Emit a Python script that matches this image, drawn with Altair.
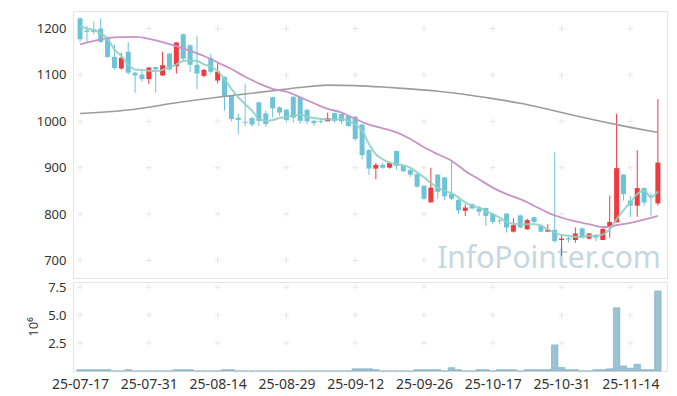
import altair as alt
import pandas as pd

# trading days (index 0..84)
dates = (
    ["25-07-%02d" % d for d in [17, 18, 21, 22, 23, 24, 25, 28, 29, 30, 31]]
    + ["25-08-%02d" % d for d in [1, 4, 5, 6, 7, 8, 11, 12, 13, 14, 18, 19, 20, 21, 22, 25, 26, 27, 28, 29]]
    + ["25-09-%02d" % d for d in [1, 2, 3, 4, 5, 8, 9, 10, 11, 12, 15, 16, 17, 18, 19, 22, 23, 24, 25, 26, 29, 30]]
    + ["25-10-%02d" % d for d in [1, 2, 10, 13, 14, 15, 16, 17, 20, 21, 22, 23, 24, 27, 28, 29, 30, 31]]
    + ["25-11-%02d" % d for d in [3, 4, 5, 6, 7, 10, 11, 12, 13, 14, 17, 18, 19, 20]]
)

opens = [1222, 1196, 1198, 1200, 1181, 1139, 1114, 1150, 1105, 1101,
         1091, 1117, 1099, 1146, 1119, 1188, 1164, 1122, 1098, 1137,
         1088, 1096, 1055, 1008, 999, 1007, 1041, 1017, 1052, 1030,
         1025, 1053, 1052, 1025, 1001, 1001, 1000, 1018, 1016, 1012,
         1010, 993, 938, 898, 906, 900, 936, 904, 895, 886,
         861, 825, 885, 879, 843, 830, 807, 821, 812, 813,
         800, 786, 801, 762, 797, 767, 793, 775, 762, 766,
         744, 748, 744, 769, 747, 755, 744, 771, 782, 885,
         829, 818, 856, 838, 823]
highs = [1224, 1206, 1216, 1222, 1183, 1165, 1148, 1171, 1106, 1112,
         1117, 1118, 1150, 1148, 1171, 1189, 1166, 1185, 1113, 1145,
         1126, 1097, 1056, 1017, 1080, 1010, 1042, 1023, 1053, 1032,
         1027, 1054, 1053, 1026, 1004, 1006, 1019, 1019, 1017, 1013,
         1011, 994, 940, 910, 911, 913, 937, 906, 898, 888,
         862, 900, 886, 880, 914, 833, 821, 823, 817, 814,
         802, 789, 802, 791, 799, 790, 794, 778, 778, 933,
         756, 751, 771, 771, 759, 756, 769, 840, 1016, 886,
         839, 938, 857, 846, 1048]
lows = [1171, 1170, 1188, 1170, 1137, 1111, 1111, 1101, 1062, 1086,
        1080, 1062, 1098, 1110, 1103, 1130, 1106, 1070, 1095, 1103,
        1082, 1023, 1000, 972, 990, 988, 990, 988, 1008, 1012,
        1000, 997, 995, 994, 990, 995, 1000, 997, 994, 988,
        958, 918, 884, 875, 898, 898, 896, 891, 880, 857,
        830, 825, 833, 830, 830, 800, 796, 810, 796, 774,
        778, 779, 760, 760, 769, 766, 780, 761, 762, 738,
        710, 739, 738, 747, 745, 741, 744, 749, 782, 829,
        794, 794, 818, 796, 818]
closes = [1177, 1193, 1193, 1171, 1139, 1115, 1137, 1105, 1099, 1091,
          1116, 1112, 1121, 1112, 1170, 1135, 1122, 1103, 1111, 1107,
          1107, 1053, 1005, 1003, 997, 993, 1001, 994, 1028, 1019,
          1003, 1008, 1001, 1000, 996, 999, 1007, 1001, 1000, 990,
          962, 927, 898, 906, 900, 910, 904, 892, 885, 859,
          833, 857, 848, 838, 833, 808, 814, 812, 805, 796,
          783, 784, 771, 776, 771, 787, 783, 762, 766, 742,
          747, 745, 758, 749, 758, 749, 768, 783, 899, 843,
          818, 856, 825, 836, 911]
volumes = [0.12, 0.12, 0.12, 0.12, 0.12, 0, 0, 0.12, 0, 0,
           0, 0, 0, 0, 0.12, 0.12, 0.12, 0, 0, 0,
           0, 0.12, 0.12, 0, 0, 0, 0, 0, 0, 0,
           0, 0, 0, 0, 0, 0, 0, 0, 0, 0,
           0.2, 0.2, 0.2, 0.12, 0, 0, 0, 0, 0, 0.12,
           0.12, 0.12, 0.12, 0, 0.3, 0.12, 0, 0, 0.12, 0.12,
           0, 0.12, 0.12, 0.12, 0, 0.12, 0.12, 0.12, 0.12, 2.33,
           0.32, 0.12, 0.12, 0, 0, 0.12, 0.12, 0.2, 5.65, 0.45,
           0.25, 0.6, 0.12, 0.12, 7.15]

ma5_idx = list(range(85))
ma5_val = [1206, 1200, 1197, 1190, 1178, 1155, 1141, 1123, 1112, 1111,
           1109, 1108, 1111, 1116, 1123, 1130, 1131, 1130, 1123, 1118,
           1108, 1091, 1070, 1052, 1037, 1023, 1005, 1001, 1003, 1007,
           1010, 1012, 1014, 1010, 1007, 1005, 1004, 1004, 1005, 1001,
           993, 980, 951, 929, 918, 911, 907, 905, 900, 890,
           879, 867, 857, 850, 845, 836, 825, 818, 814, 807,
           800, 792, 783, 779, 778, 778, 778, 775, 767, 760,
           755, 753, 751, 751, 753, 753, 756, 767, 789, 808,
           825, 843, 850, 837, 849]
ma20_idx = [0, 3, 5, 8, 10, 12, 14, 16, 18, 20, 22, 24, 26, 28, 30, 32, 34, 36, 38, 40,
            42, 44, 46, 48, 50, 52, 54, 56, 58, 60, 62, 64, 66, 68, 70, 72, 74, 76, 77, 78,
            80, 82, 84]
ma20_val = [1166, 1177, 1181, 1182, 1178, 1171, 1162, 1152, 1141, 1127, 1113, 1096, 1082,
            1070, 1064, 1052, 1039, 1027, 1019, 1005, 993, 985, 976, 962, 944, 929, 915,
            893, 875, 857, 843, 832, 818, 803, 792, 784, 778, 772, 772, 776, 781, 788, 796]
ma120_idx = [0, 8, 14, 20, 24, 28, 32, 36, 40, 44, 48, 52, 56, 60, 64, 68, 72, 76, 80, 84]
ma120_val = [1017, 1026, 1040, 1052, 1059, 1066, 1073, 1078, 1077, 1074, 1070, 1065,
             1058, 1049, 1039, 1026, 1012, 999, 987, 976]

tick_idx = [0, 10, 20, 30, 40, 50, 60, 70, 80]
price_ticks = [700, 800, 900, 1000, 1100, 1200]
vol_ticks = [2.5, 5.0, 7.5]

RED = "#ef3b3e"
BLUE = "#6dc3d8"
FONT = "Noto Sans"

candles = pd.DataFrame({"i": list(range(len(opens))), "date": dates, "open": opens,
                        "high": highs, "low": lows, "close": closes, "vol": volumes})
ma5 = pd.DataFrame({"i": ma5_idx, "v": ma5_val})
ma20 = pd.DataFrame({"i": ma20_idx, "v": ma20_val})
ma120 = pd.DataFrame({"i": ma120_idx, "v": ma120_val})
pcross = pd.DataFrame([(i, p) for i in tick_idx for p in price_ticks], columns=["i", "p"])
vcross = pd.DataFrame([(i, p) for i in tick_idx for p in vol_ticks], columns=["i", "p"])

xdom = [-0.3, 84.6]
xs = alt.Scale(domain=xdom, nice=False, zero=False)
ys = alt.Scale(domain=[662, 1238], nice=False, zero=False)
vs = alt.Scale(domain=[0, 7.95], nice=False)

label_expr = "[" + ",".join("'%s'" % dates[i] for i in range(len(dates))) + "][datum.value]"

X_none = alt.X("i:Q", scale=xs, axis=None)
color_cond = alt.condition("datum.close > datum.open", alt.value(RED), alt.value(BLUE))

cross_shape = "M-1,0L1,0M0,-1L0,1"

watermark = alt.Chart(pd.DataFrame({"t": ["InfoPointer.com"]})).mark_text(
    font=FONT, fontSize=30, color="#c6d7e0", align="center", baseline="alphabetic"
).encode(text="t:N", x=alt.value(476), y=alt.value(257))

pc = alt.Chart(pcross).mark_point(shape=cross_shape, size=36, filled=False,
                                  stroke="#dddddd", strokeWidth=1).encode(
    x=X_none, y=alt.Y("p:Q", scale=ys,
                      axis=alt.Axis(values=price_ticks, format="d", title=None, domain=False,
                                    ticks=False, grid=False, labelPadding=7)))

l120 = alt.Chart(ma120).mark_line(color="#9c9c9c", strokeWidth=1.6, interpolate="monotone").encode(
    x=X_none, y=alt.Y("v:Q", scale=ys))
l20 = alt.Chart(ma20).mark_line(color="#c993c6", strokeWidth=1.8, interpolate="monotone").encode(
    x=X_none, y=alt.Y("v:Q", scale=ys))
l5 = alt.Chart(ma5).mark_line(color="#90d0c2", strokeWidth=2, opacity=0.9, interpolate="monotone").encode(
    x=X_none, y=alt.Y("v:Q", scale=ys))

base = alt.Chart(candles)
wicks = base.mark_rule(strokeWidth=1).encode(
    x=X_none, y=alt.Y("low:Q", scale=ys), y2="high:Q", color=color_cond)
bodies = base.mark_bar(size=5).encode(
    x=X_none, y=alt.Y("open:Q", scale=ys), y2="close:Q", color=color_cond)

price = alt.layer(watermark, pc, wicks, bodies, l120, l20, l5).properties(width=594, height=267)

vc = alt.Chart(vcross).mark_point(shape=cross_shape, size=36, filled=False,
                                  stroke="#dddddd", strokeWidth=1).encode(
    x=alt.X("i:Q", scale=xs,
            axis=alt.Axis(values=tick_idx, labelExpr=label_expr, title=None, domain=False,
                          ticks=False, grid=False, labelPadding=6, labelAngle=0,
                          labelFlush=False, labelOverlap=False, labelFontSize=14)),
    y=alt.Y("p:Q", scale=vs,
            axis=alt.Axis(values=vol_ticks, format=".1f", title="10⁶", domain=False, ticks=False,
                          grid=False, labelPadding=7, titlePadding=7)))
vbars = base.mark_bar(size=6.5, color="#99c2d3", stroke="#7fadc1", strokeWidth=0.6).encode(
    x=alt.X("i:Q", scale=xs), y=alt.Y("vol:Q", scale=vs))

volume = alt.layer(vc, vbars).properties(width=594, height=89)

chart = alt.vconcat(price, volume, spacing=1).properties(
    padding={"left": 19, "top": 2, "right": 0, "bottom": 0}
).configure_view(stroke="#e4e4e4", strokeWidth=1).configure_axis(
    labelFont=FONT, labelFontSize=13, labelColor="#333333",
    titleFont=FONT, titleFontSize=13, titleColor="#333333", titleFontWeight="normal"
)

chart.save("out.html", embed_options={"renderer": "svg", "actions": False})
